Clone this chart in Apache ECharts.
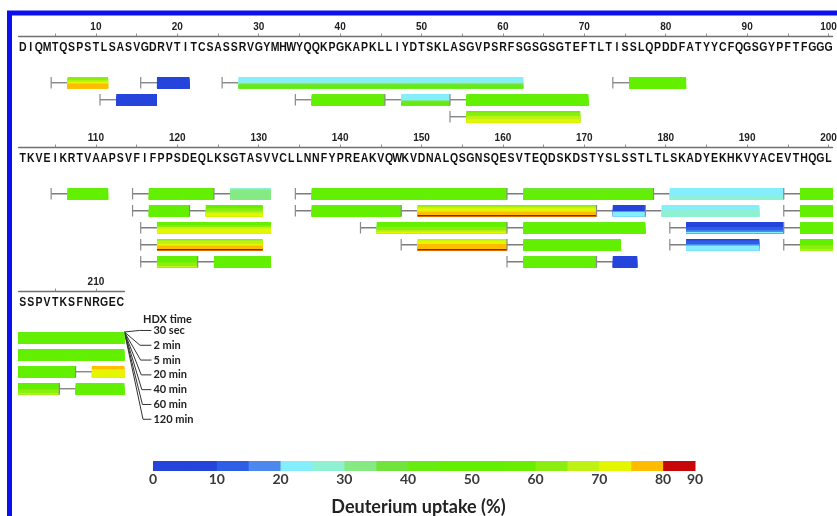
<!DOCTYPE html>
<html>
<head>
<meta charset="utf-8">
<script src="https://cdn.jsdelivr.net/npm/echarts@6/dist/echarts.min.js"></script>
<style>
  html, body { margin: 0; padding: 0; background: #fff; }
  #main { width: 837px; height: 516px; }
</style>
</head>
<body>
<div id="main"></div>
<script>
// Light-chain sequence, one string per 100-residue row
const sequenceRows = [
  'DIQMTQSPSTLSASVGDRVTITCSASSRVGYMHWYQQKPGKAPKLLIYDTSKLASGVPSRFSGSGSGTEFTLTISSLQPDDFATYYCFQGSGYPFTFGGG',
  'TKVEIKRTVAAPSVFIFPPSDEQLKSGTASVVCLLNNFYPREAKVQWKVDNALQSGNSQESVTEQDSKDSTYSLSSTLTLSKADYEKHKVYACEVTHQGL',
  'SSPVTKSFNRGEC'
];
const rowTickLabels = [
  [10, 20, 30, 40, 50, 60, 70, 80, 90, 100],
  [110, 120, 130, 140, 150, 160, 170, 180, 190, 200],
  [210]
];
const rowMinorTicks = [
  [5, 10, 15, 20, 25, 30, 35, 40, 45, 50, 55, 60, 65, 70, 75, 80, 85, 90, 95, 100],
  [105, 110, 115, 120, 125, 130, 135, 140, 145, 150, 155, 160, 165, 170, 175, 180, 185, 190, 195, 200],
  [205, 210]
];
const timePoints = ['30 sec', '2 min', '5 min', '20 min', '40 min', '60 min', '120 min'];

// Peptides: first / last residue, display lane, % deuterium uptake per time point
const pepStart = [5, 16, 26, 74, 11, 35, 46, 54, 54,
  105, 115, 125, 135, 161, 179, 195,
  115, 122, 135, 148, 172, 178, 195,
  116, 143, 161, 181, 195, 208,
  116, 148, 161, 181, 195, 206,
  116, 123, 161, 172];
const pepEnd = [11, 21, 62, 82, 17, 45, 53, 70, 69,
  111, 124, 131, 160, 178, 194, 213,
  121, 130, 147, 171, 177, 191, 213,
  131, 160, 177, 194, 207, 213,
  130, 160, 174, 191, 205, 213,
  122, 131, 171, 176];
const pepLane = [0, 0, 0, 0, 1, 1, 1, 1, 2,
  0, 0, 0, 0, 0, 0, 0,
  1, 1, 1, 1, 1, 1, 1,
  2, 2, 2, 2, 2, 2,
  3, 3, 3, 3, 3, 3,
  4, 4, 4, 4];
const pepUptake = [
  [62, 64, 68, 72, 76, 78, 79],
  [6, 7, 8, 8, 9, 9, 9],
  [21, 22, 23, 26, 36, 42, 45],
  [45, 46, 47, 48, 48, 49, 50],
  [6, 7, 7, 8, 8, 9, 9],
  [42, 44, 45, 46, 47, 48, 48],
  [21, 22, 24, 27, 37, 42, 44],
  [44, 46, 47, 48, 50, 52, 53],
  [58, 62, 64, 66, 68, 71, 72],

  [44, 45, 46, 47, 48, 49, 50],
  [44, 45, 46, 47, 48, 49, 50],
  [28, 30, 31, 32, 33, 34, 34],
  [44, 45, 46, 47, 48, 49, 50],
  [36, 40, 43, 45, 47, 48, 49],
  [21, 22, 22, 23, 24, 26, 27],
  [44, 46, 47, 48, 49, 50, 51],

  [43, 45, 46, 47, 48, 49, 50],
  [50, 55, 60, 64, 67, 70, 72],
  [43, 45, 46, 47, 48, 49, 50],
  [64, 68, 71, 73, 76, 79, 82],
  [6, 7, 8, 9, 21, 23, 24],
  [22, 23, 24, 25, 26, 27, 28],
  [44, 45, 46, 47, 48, 49, 50],

  [50, 56, 62, 66, 70, 72, 74],
  [48, 52, 56, 60, 64, 67, 70],
  [44, 45, 46, 47, 48, 49, 50],
  [5, 6, 8, 11, 14, 18, 22],
  [44, 45, 46, 47, 48, 49, 50],
  [77, 76, 74, 73, 72, 71, 71],

  [60, 65, 69, 72, 75, 78, 81],
  [68, 71, 73, 75, 77, 79, 82],
  [44, 45, 46, 47, 48, 49, 50],
  [8, 10, 13, 16, 21, 23, 24],
  [46, 48, 52, 56, 60, 64, 66],
  [44, 45, 46, 47, 48, 49, 50],

  [46, 50, 54, 58, 62, 64, 66],
  [44, 45, 46, 47, 48, 49, 50],
  [40, 44, 46, 47, 48, 49, 50],
  [6, 7, 7, 8, 8, 9, 9]
];

// Colour scale: bin edges (%) and the fill of each bin
const uptakeStops = [0, 5, 10, 15, 20, 25, 30, 35, 40, 45, 50, 55, 60, 65, 70, 75, 80, 90];
const uptakeColors = ['#2444dc', '#2444dc', '#2f5ee6', '#4c88ee', '#84eefc', '#8ef2d2', '#86ea84',
  '#70e43a', '#66ec0e', '#62f000', '#62f000', '#6aee00', '#8cee10', '#bdf214', '#e4f600',
  '#ffbc00', '#c80808'];

function uptakeColor(v) {
  for (let i = uptakeStops.length - 2; i >= 0; i--) {
    if (v >= uptakeStops[i]) return uptakeColors[i];
  }
  return uptakeColors[0];
}

const SEQ_FONT = "'Liberation Sans', Arial, sans-serif";
const LEGEND_FONT = "Lato, 'Open Sans', sans-serif";
const LANE_PX = 17;          // pixel height of one lane unit
const BAR_FRAC = 0.68;       // bar height as a fraction of a lane
const Y_TOP = -2.75;         // lane value at the residue axis line
const SEQ_Y = -2.08;         // lane value of the sequence letters
const rowTops = [36, 147, 291];
const rowLaneSpan = [6, 7.5, 7];
const RES_PX = 8.14;
const GRID_LEFT = 18.6;

const grids = [], xAxes = [], yAxes = [], series = [];

for (let r = 0; r < 3; r++) {
  const lo = r * 100 + 0.5;
  const hi = lo + sequenceRows[r].length;
  grids.push({
    left: GRID_LEFT, top: rowTops[r],
    width: (hi - lo) * RES_PX, height: rowLaneSpan[r] * LANE_PX,
    containLabel: false, outerBoundsMode: 'none'
  });
  xAxes.push({
    gridIndex: r, type: 'value', position: 'top', min: lo, max: hi,
    axisLine: { show: true, onZero: false, lineStyle: { color: '#707070', width: 1.3 } },
    axisTick: { show: true, customValues: rowMinorTicks[r], length: 2.5, lineStyle: { color: '#909090', width: 1 } },
    axisLabel: {
      customValues: rowTickLabels[r], margin: 4, fontSize: 10, fontWeight: 'bold',
      fontFamily: SEQ_FONT, color: '#222'
    },
    splitLine: { show: false }
  });
  yAxes.push({
    gridIndex: r, type: 'value', inverse: true, min: Y_TOP, max: Y_TOP + rowLaneSpan[r],
    show: false, axisLine: { onZero: false }, splitLine: { show: false }
  });

  // sequence letters, one per residue position
  const seq = sequenceRows[r];
  series.push({
    type: 'custom', xAxisIndex: r, yAxisIndex: r, clip: false, silent: true,
    data: seq.split('').map((ch, k) => [r * 100 + k + 1, SEQ_Y]),
    renderItem(params, api) {
      const p = api.coord([api.value(0), api.value(1)]);
      return {
        type: 'text', x: p[0], y: p[1], scaleX: 0.84,
        style: {
          text: seq[params.dataIndex], x: 0, y: 0,
          fontSize: 12.5, fontWeight: 'bold', fontFamily: SEQ_FONT, fill: '#111',
          align: 'center', verticalAlign: 'middle'
        }
      };
    }
  });

  // peptide bars: grey lead-in for the first two residues, then one stripe per time point
  series.push({
    type: 'custom', xAxisIndex: r, yAxisIndex: r, clip: true, silent: true,
    data: pepStart.map((s, i) => [s, pepEnd[i], pepLane[i], i]),
    encode: { x: [0, 1], y: 2 },
    renderItem(params, api) {
      const s = api.value(0), e = api.value(1), lane = api.value(2), idx = api.value(3);
      const barH = api.size([1, 1])[1] * BAR_FRAC;
      const tickP = api.coord([s - 0.5, lane]);
      const barL = api.coord([s + 1.5, lane]);
      const barR = api.coord([e + 0.5, lane]);
      const children = [
        { type: 'line', shape: { x1: tickP[0], y1: tickP[1], x2: barL[0], y2: tickP[1] },
          style: { stroke: '#7c7c7c', lineWidth: 1.3 } },
        { type: 'line', shape: { x1: tickP[0], y1: tickP[1] - barH / 2, x2: tickP[0], y2: tickP[1] + barH / 2 },
          style: { stroke: '#8a8a8a', lineWidth: 1.2 } }
      ];
      const top = barL[1] - barH / 2;
      const vals = pepUptake[idx];
      vals.forEach((u, k) => {
        const y0 = top + barH * k / vals.length;
        children.push({
          type: 'rect',
          shape: { x: barL[0], y: y0, width: barR[0] - barL[0], height: top + barH - y0 },
          style: { fill: uptakeColor(u) }
        });
      });
      return { type: 'group', children };
    }
  });
}

// colour bar
grids.push({ left: 153, top: 461, width: 542, height: 10, containLabel: false, outerBoundsMode: 'none' });
xAxes.push({
  gridIndex: 3, type: 'category', boundaryGap: false, position: 'bottom',
  data: uptakeStops.map(String),
  axisLine: { show: false }, axisTick: { show: false },
  axisLabel: {
    interval: (i, v) => Number(v) % 10 === 0, margin: 1,
    fontSize: 14, fontWeight: 'bold', fontFamily: LEGEND_FONT, color: '#3a3a3a'
  },
  splitLine: { show: false }
});
yAxes.push({ gridIndex: 3, type: 'value', min: 0, max: 1, show: false, splitLine: { show: false } });
series.push({
  type: 'custom', xAxisIndex: 3, yAxisIndex: 3, silent: true,
  data: uptakeColors.map((c, i) => [i, 0]),
  renderItem(params, api) {
    const i = params.dataIndex;
    const p0 = api.coord([i, 1]);
    const p1 = api.coord([i + 1, 0]);
    return {
      type: 'rect',
      shape: { x: p0[0], y: p0[1], width: p1[0] - p0[0] + 0.5, height: p1[1] - p0[1] },
      style: { fill: uptakeColors[i] }
    };
  }
});

const chart = echarts.init(document.getElementById('main'), null, { renderer: 'canvas' });
chart.setOption({
  animation: false,
  backgroundColor: '#ffffff',
  title: {
    text: 'Deuterium uptake (%)', left: 'center', top: 493,
    textStyle: { fontSize: 18, fontWeight: 'bold', fontFamily: LEGEND_FONT, color: '#222' }
  },
  grid: grids, xAxis: xAxes, yAxis: yAxes, series
});

// HDX time key, fanned out from the top right corner of the first bar in the last row
const corner = chart.convertToPixel({ gridIndex: 2 }, [213.5, 0]);
const barHalf = LANE_PX * BAR_FRAC / 2;
const ox = corner[0], oy = corner[1] - barHalf;
const keyGraphics = [
  { type: 'rect', shape: { x: 9.5, y: 13, width: 1000, height: 1000 },
    style: { fill: 'none', stroke: '#0c10ee', lineWidth: 5 }, silent: true },
  { type: 'text', x: ox + 43, y: oy - 13,
    style: { text: 'HDX time', fontSize: 11, fontWeight: 'bold', fontFamily: LEGEND_FONT, fill: '#222',
      align: 'center', verticalAlign: 'middle' } }
];
timePoints.forEach((t, i) => {
  const ly = oy - 1.5 + 14.8 * i;
  keyGraphics.push({
    type: 'polyline',
    shape: { points: [[ox, oy], [ox + 15 + i * 0.6, ly], [ox + 27, ly]] },
    style: { stroke: '#333', lineWidth: 1, fill: null }
  });
  keyGraphics.push({
    type: 'text', x: ox + 29, y: ly,
    style: { text: t, fontSize: 11, fontWeight: 'bold', fontFamily: LEGEND_FONT, fill: '#222',
      align: 'left', verticalAlign: 'middle' }
  });
});
chart.setOption({ graphic: keyGraphics });
</script>
</body>
</html>
